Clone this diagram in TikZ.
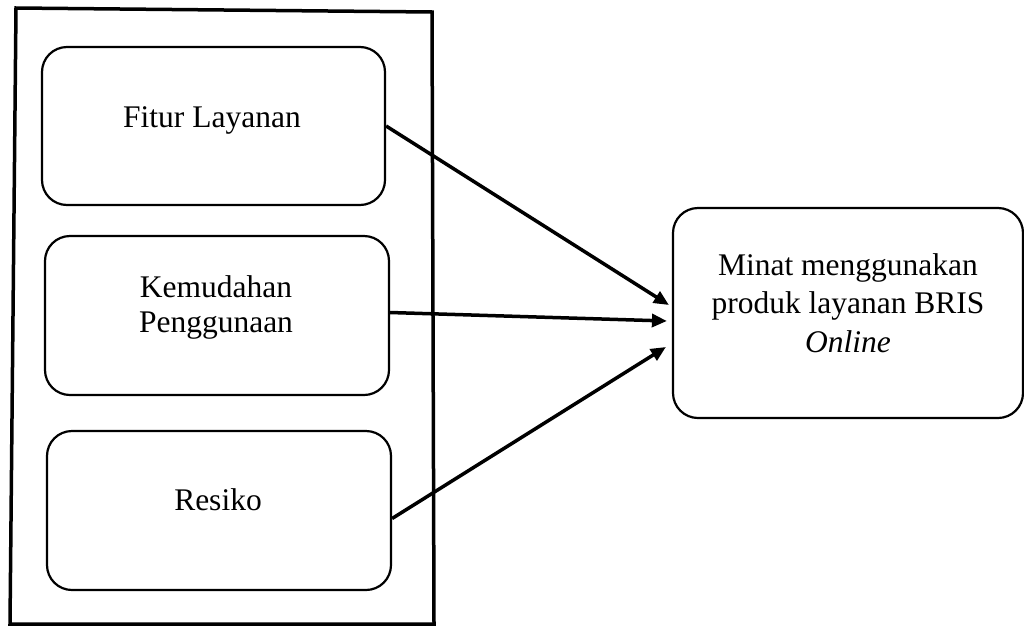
\documentclass[tikz,border=0pt]{standalone}
\usepackage{fontspec}
\setmainfont{Liberation Serif}
\usetikzlibrary{arrows.meta,calc}
\begin{document}
\begin{tikzpicture}[x=1pt,y=-1pt,
  box/.style={draw=black,line width=2.2pt,rounded corners=25pt,rectangle,inner sep=0pt},
  txt/.style={inner sep=0pt,align=center,font=\fontsize{31.5}{35}\selectfont},
  rtxt/.style={inner sep=0pt,align=center,font=\fontsize{31.5}{38.5}\selectfont},
  conn/.style={line width=3.5pt,-{Triangle[length=15pt,width=13pt]}}]
\useasboundingbox (0,0) rectangle (1024,627);
% outer frame
\draw[line width=3.5pt,line join=miter] (16,8) -- (432,12) -- (434,624) -- (10,624) -- cycle;
% boxes
\node[box,minimum width=343pt,minimum height=158pt] (b1) at (213.5,126) {};
\node[box,minimum width=344pt,minimum height=159pt] (b2) at (217,315.5) {};
\node[box,minimum width=344pt,minimum height=159pt] (b3) at (219,510.5) {};
\node[box,minimum width=350pt,minimum height=210pt] (r) at (848,313) {};
% texts
\node[txt,anchor=base] (t1) at (212,127) {Fitur Layanan};
\node[txt] (t2) at (216,307) {Kemudahan\\Penggunaan};
\node[txt,anchor=base] (t3) at (218,510) {Resiko};
\node[rtxt] (tr) at (848,303) {Minat menggunakan\\produk layanan BRIS\\\textit{Online}};
% connectors
\coordinate (s1) at (b1.east);
\coordinate (s2) at ($(b2.east)+(0,-3)$);
\coordinate (s3) at ($(b3.east)+(0,8)$);
\coordinate (a1) at ($(r.west)+(-3,-8)$);
\coordinate (a2) at ($(r.west)+(-5,8)$);
\coordinate (a3) at ($(r.west)+(-6,34)$);
\draw[conn] (s1) -- (a1);
\draw[conn] (s2) -- (a2);
\draw[conn] (s3) -- (a3);
\end{tikzpicture}
\end{document}
